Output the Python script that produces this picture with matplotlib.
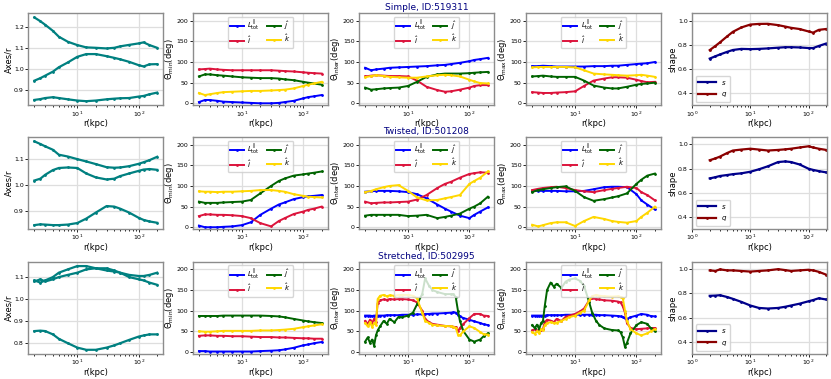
"""Halo shape and alignment profiles for three example haloes."""

import matplotlib.pyplot as plt

# radii (kpc) for the smooth profiles
R = [2, 2.5, 3, 4, 5, 7, 10, 14, 20, 30, 40, 50, 70, 100, 120, 150, 200]
# denser radii for the noisy stretched-halo angle profiles
R_DENSE = [2, 2.2, 2.4, 2.6, 2.8, 3, 3.2, 3.5, 4, 4.5, 5, 6, 7, 8, 10, 12, 14,
           17, 19, 22, 25, 30, 40, 50, 55, 60, 65, 70, 80, 100, 120, 150, 170, 200]

TITLES = ["Simple, ID:519311", "Twisted, ID:501208", "Stretched, ID:502995"]

# ---- Simple, ID:519311 ----
simple_axes_a = [1.248, 1.23, 1.213, 1.184, 1.156, 1.132, 1.116, 1.105, 1.103, 1.10,
                 1.103, 1.11, 1.117, 1.124, 1.129, 1.116, 1.103]
simple_axes_b = [0.946, 0.958, 0.97, 0.989, 1.01, 1.033, 1.06, 1.073, 1.073, 1.063,
                 1.055, 1.048, 1.036, 1.02, 1.014, 1.024, 1.025]
simple_axes_c = [0.854, 0.858, 0.863, 0.867, 0.863, 0.857, 0.851, 0.848, 0.851, 0.857,
                 0.860, 0.862, 0.863, 0.87, 0.873, 0.881, 0.889]

simple_min_L = [3, 8, 8, 6, 4, 3, 2, 1, 0, 0, 1, 3, 6, 12, 15, 17, 20]
simple_min_i = [82, 83, 84, 82, 81, 80, 80, 80, 80, 80, 79, 78, 77, 75, 74, 73, 72]
simple_min_j = [65, 70, 70, 68, 67, 65, 63, 62, 61, 61, 60, 58, 56, 52, 50, 48, 45]
simple_min_k = [25, 20, 22, 25, 27, 28, 29, 30, 30, 31, 32, 33, 36, 42, 45, 48, 52]

simple_int_L = [86, 80, 82, 84, 86, 87, 88, 89, 90, 92, 93, 95, 98, 102, 105, 107, 110]
simple_int_i = [65, 67, 68, 67, 66, 66, 65, 55, 40, 32, 28, 29, 33, 38, 42, 44, 44]
simple_int_j = [38, 33, 34, 36, 37, 38, 42, 52, 64, 70, 72, 72, 72, 73, 74, 75, 76]
simple_int_k = [63, 66, 68, 66, 64, 63, 62, 62, 65, 68, 69, 68, 65, 57, 53, 49, 48]

simple_max_L = [90, 90, 91, 90, 89, 89, 89, 89, 90, 90, 91, 91, 93, 95, 96, 97, 100]
simple_max_i = [27, 26, 25, 25, 26, 27, 29, 42, 55, 60, 63, 63, 62, 57, 54, 51, 52]
simple_max_j = [65, 66, 67, 65, 64, 64, 64, 55, 43, 38, 36, 36, 40, 45, 47, 48, 50]
simple_max_k = [87, 88, 88, 88, 88, 88, 87, 80, 72, 70, 69, 68, 67, 68, 69, 67, 64]

simple_s = [0.686, 0.705, 0.72, 0.742, 0.757, 0.766, 0.764, 0.766, 0.77, 0.776,
            0.78, 0.78, 0.778, 0.773, 0.773, 0.79, 0.81]
simple_q = [0.756, 0.79, 0.82, 0.87, 0.907, 0.943, 0.967, 0.972, 0.973, 0.962,
            0.95, 0.94, 0.93, 0.91, 0.90, 0.923, 0.93]

# ---- Twisted, ID:501208 ----
twist_axes_a = [1.168, 1.158, 1.149, 1.136, 1.117, 1.11, 1.10, 1.091, 1.081, 1.069,
                1.067, 1.068, 1.073, 1.082, 1.088, 1.096, 1.109]
twist_axes_b = [1.018, 1.025, 1.04, 1.058, 1.066, 1.068, 1.066, 1.045, 1.03, 1.022,
                1.025, 1.035, 1.045, 1.055, 1.06, 1.062, 1.059]
twist_axes_c = [0.847, 0.85, 0.849, 0.847, 0.847, 0.849, 0.855, 0.872, 0.895, 0.92,
                0.918, 0.91, 0.895, 0.875, 0.867, 0.861, 0.856]

twist_min_L = [4, 0, 0, 0, 1, 2, 5, 12, 30, 45, 55, 60, 68, 73, 75, 76, 78]
twist_min_i = [27, 31, 31, 30, 30, 29, 27, 22, 10, 2, 15, 22, 32, 38, 42, 45, 50]
twist_min_j = [62, 59, 59, 59, 60, 61, 62, 66, 82, 100, 112, 118, 125, 128, 130, 132, 135]
twist_min_k = [87, 86, 86, 85, 86, 86, 87, 88, 90, 90, 88, 86, 80, 76, 74, 73, 72]

twist_int_L = [86, 87, 88, 88, 88, 87, 85, 80, 70, 55, 45, 38, 28, 22, 30, 38, 48]
twist_int_i = [62, 58, 59, 60, 60, 61, 62, 67, 78, 95, 105, 110, 120, 129, 131, 133, 132]
twist_int_j = [28, 30, 30, 30, 30, 30, 27, 28, 30, 22, 25, 28, 33, 45, 50, 58, 74]
twist_int_k = [85, 88, 92, 97, 100, 102, 88, 72, 65, 66, 70, 73, 78, 105, 112, 120, 135]

twist_max_L = [88, 88, 88, 88, 88, 87, 87, 88, 92, 97, 98, 98, 97, 80, 65, 55, 43]
twist_max_i = [90, 93, 95, 97, 98, 95, 90, 87, 85, 90, 93, 95, 98, 95, 85, 78, 65]
twist_max_j = [85, 90, 92, 95, 97, 99, 88, 73, 64, 68, 72, 75, 82, 105, 115, 125, 130]
twist_max_k = [6, 2, 5, 10, 12, 12, 3, 15, 25, 20, 15, 13, 11, 15, 25, 35, 50]

twist_s = [0.72, 0.73, 0.74, 0.748, 0.755, 0.762, 0.775, 0.795, 0.82, 0.855,
           0.86, 0.855, 0.835, 0.80, 0.79, 0.78, 0.77]
twist_q = [0.87, 0.885, 0.90, 0.93, 0.95, 0.958, 0.965, 0.958, 0.95, 0.955,
           0.96, 0.965, 0.975, 0.985, 0.975, 0.965, 0.955]

# ---- Stretched, ID:502995 ----
stretch_axes_a = [1.08, 1.09, 1.08, 1.09, 1.10, 1.11, 1.12, 1.135, 1.14, 1.14,
                  1.13, 1.12, 1.11, 1.105, 1.105, 1.11, 1.12]
stretch_axes_b = [1.085, 1.075, 1.085, 1.10, 1.12, 1.135, 1.15, 1.15, 1.14, 1.13,
                  1.125, 1.12, 1.10, 1.09, 1.085, 1.075, 1.065]
stretch_axes_c = [0.855, 0.857, 0.855, 0.84, 0.82, 0.80, 0.78, 0.77, 0.77, 0.78,
                  0.79, 0.80, 0.815, 0.83, 0.835, 0.84, 0.84]

stretch_min_L = [2, 2, 1, 1, 1, 1, 1, 1, 2, 3, 4, 6, 10, 16, 18, 21, 24]
stretch_min_i = [39, 40, 40, 39, 39, 38, 38, 37, 36, 36, 35, 35, 34, 33, 33, 32, 32]
stretch_min_j = [87, 87, 87, 87, 88, 88, 88, 88, 88, 87, 86, 84, 80, 76, 74, 72, 70]
stretch_min_k = [50, 49, 49, 50, 51, 51, 51, 51, 52, 52, 53, 54, 56, 60, 62, 64, 67]

stretch_int_L = [88, 88, 88, 87, 88, 88, 88, 88, 88, 89, 89, 89, 89, 90, 90, 90, 91,
                 91, 92, 92, 93, 93, 94, 95, 96, 95, 90, 86, 82, 78, 74, 70, 67, 65]
stretch_int_i = [75, 68, 78, 70, 80, 72, 118, 125, 127, 126, 128, 127, 128, 128, 127, 125, 120,
                 100, 80, 72, 68, 66, 63, 62, 61, 60, 50, 58, 68, 82, 92, 92, 88, 87]
stretch_int_j = [25, 35, 22, 30, 15, 40, 52, 62, 75, 68, 80, 72, 85, 84, 88, 95, 115,
                 140, 178, 160, 150, 145, 140, 140, 140, 132, 100, 75, 50, 30, 25, 30, 38, 45]
stretch_int_k = [70, 62, 72, 60, 70, 65, 128, 136, 138, 135, 137, 136, 138, 138, 138, 136, 130,
                 95, 75, 70, 66, 64, 63, 62, 61, 58, 42, 40, 50, 62, 58, 48, 43, 42]

stretch_max_L = [88, 88, 88, 88, 88, 88, 88, 89, 89, 89, 89, 89, 90, 90, 90, 90, 90,
                 90, 90, 90, 89, 89, 88, 87, 86, 84, 82, 80, 84, 88, 92, 90, 87, 86]
stretch_max_i = [52, 55, 50, 56, 52, 55, 72, 78, 76, 72, 80, 75, 85, 88, 92, 98, 105,
                 125, 130, 128, 127, 125, 124, 122, 120, 110, 95, 70, 58, 55, 56, 57, 58, 58]
stretch_max_j = [65, 58, 66, 55, 70, 75, 110, 150, 168, 158, 165, 155, 170, 175, 178, 172, 160,
                 120, 95, 75, 65, 57, 53, 52, 48, 35, 12, 22, 45, 65, 72, 68, 58, 50]
stretch_max_k = [48, 44, 50, 45, 55, 52, 65, 70, 72, 70, 71, 75, 80, 84, 88, 95, 100,
                 125, 135, 138, 136, 135, 134, 135, 133, 130, 100, 75, 55, 45, 40, 45, 50, 55]

stretch_s = [0.78, 0.782, 0.785, 0.77, 0.755, 0.73, 0.70, 0.68, 0.675, 0.68,
             0.69, 0.70, 0.715, 0.735, 0.745, 0.76, 0.75]
stretch_q = [0.99, 0.985, 0.998, 0.99, 0.99, 0.985, 0.98, 0.985, 0.99, 1.0,
             0.992, 0.985, 0.99, 0.995, 0.99, 0.978, 0.955]

ANGLE_LABELS = [r"$L^{\parallel}_{\rm tot}$", r"$\hat{i}$", r"$\hat{j}$", r"$\hat{k}$"]
ANGLE_COLORS = ["blue", "crimson", "darkgreen", "gold"]
ANGLE_NAMES = ["min", "inter", "max"]

ROWS = [
    dict(axes=[simple_axes_a, simple_axes_b, simple_axes_c],
         angles=[(R, [simple_min_L, simple_min_i, simple_min_j, simple_min_k]),
                 (R, [simple_int_L, simple_int_i, simple_int_j, simple_int_k]),
                 (R, [simple_max_L, simple_max_i, simple_max_j, simple_max_k])],
         s=simple_s, q=simple_q),
    dict(axes=[twist_axes_a, twist_axes_b, twist_axes_c],
         angles=[(R, [twist_min_L, twist_min_i, twist_min_j, twist_min_k]),
                 (R, [twist_int_L, twist_int_i, twist_int_j, twist_int_k]),
                 (R, [twist_max_L, twist_max_i, twist_max_j, twist_max_k])],
         s=twist_s, q=twist_q),
    dict(axes=[stretch_axes_a, stretch_axes_b, stretch_axes_c],
         angles=[(R, [stretch_min_L, stretch_min_i, stretch_min_j, stretch_min_k]),
                 (R_DENSE, [stretch_int_L, stretch_int_i, stretch_int_j, stretch_int_k]),
                 (R_DENSE, [stretch_max_L, stretch_max_i, stretch_max_j, stretch_max_k])],
         s=stretch_s, q=stretch_q),
]

plt.rcParams.update({
    "font.size": 5.5,
    "xtick.labelsize": 4.5,
    "ytick.labelsize": 4.5,
    "axes.labelsize": 6,
    "axes.edgecolor": "0.55",
    "axes.linewidth": 1.0,
    "xtick.major.size": 2.0,
    "ytick.major.size": 2.0,
    "xtick.minor.size": 1.1,
    "xtick.major.width": 0.6,
    "ytick.major.width": 0.6,
    "xtick.major.pad": 0.8,
    "ytick.major.pad": 1.2,
    "axes.labelpad": 0.5,
})


def style(ax):
    ax.set_xscale("log")
    ax.grid(True, color="0.87", linewidth=0.9)
    ax.set_axisbelow(True)
    ax.set_xlabel("r(kpc)")


fig = plt.figure(figsize=(8.31, 3.79), dpi=100)
lefts = [0.034, 0.232, 0.432, 0.633, 0.833]
bottoms = [0.722, 0.395, 0.066]
width, height = 0.1625, 0.243

for row, (data, bottom) in enumerate(zip(ROWS, bottoms)):
    axs = [fig.add_axes([left, bottom, width, height]) for left in lefts]

    ax = axs[0]
    for curve in data["axes"]:
        ax.plot(R, curve, color="teal", linewidth=1.6, marker=".", markersize=2)
    style(ax)
    ax.set_ylabel("Axes/r")

    for col, (name, (radii, series)) in enumerate(zip(ANGLE_NAMES, data["angles"])):
        ax = axs[col + 1]
        for values, label, color in zip(series, ANGLE_LABELS, ANGLE_COLORS):
            ax.plot(radii, values, color=color, linewidth=1.4, marker=".",
                    markersize=2, label=label)
        style(ax)
        ax.set_ylim(-5, 218)
        ax.set_yticks([0, 50, 100, 150, 200])
        ax.set_ylabel(r"$\Theta_{\rm %s}$(deg)" % name)
        ax.legend(loc="upper center", ncol=2, fontsize=5, handlelength=2.0,
                  columnspacing=1.0, labelspacing=0.15, borderpad=0.35,
                  handletextpad=0.5, edgecolor="0.8")

    axs[2].set_title(TITLES[row], color="navy", fontsize=6.5, pad=2)

    ax = axs[4]
    ax.plot(R, data["s"], color="darkblue", linewidth=1.6, marker=".", markersize=2,
            label="$s$")
    ax.plot(R, data["q"], color="darkred", linewidth=1.6, marker=".", markersize=2,
            label="$q$")
    style(ax)
    ax.set_xlim(1, 210)
    ax.set_ylim(0.3, 1.06)
    ax.set_yticks([0.4, 0.6, 0.8, 1.0])
    ax.set_ylabel("shape")
    ax.legend(loc="lower left", fontsize=5, handlelength=2.5, edgecolor="0.8")

fig.savefig("out.png", dpi=100)
